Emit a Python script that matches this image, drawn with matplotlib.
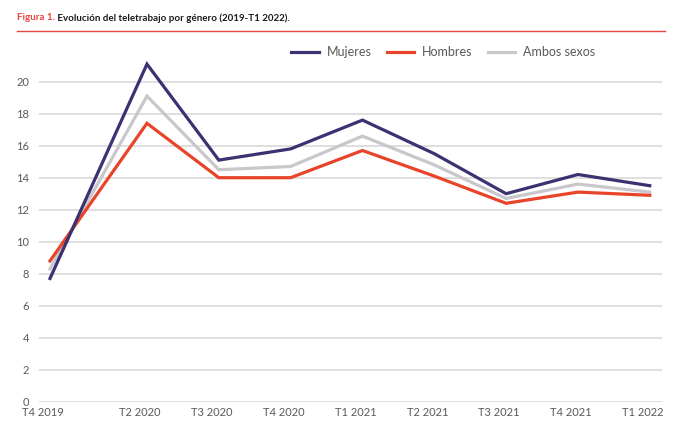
import matplotlib
matplotlib.use("Agg")
import matplotlib.pyplot as plt
import matplotlib.transforms as mtransforms
from matplotlib.lines import Line2D

plt.rcParams['font.family'] = ['Lato', 'DejaVu Sans']

# data
quarters = ["T4 2019", "T2 2020", "T3 2020", "T4 2020", "T1 2021",
            "T2 2021", "T3 2021", "T4 2021", "T1 2022"]
x_pos = [0, 1.35, 2.35, 3.35, 4.35, 5.35, 6.35, 7.35, 8.35]
mujeres = [7.7, 21.1, 15.1, 15.8, 17.6, 15.5, 13.0, 14.2, 13.5]
hombres = [8.8, 17.4, 14.0, 14.0, 15.7, 14.1, 12.4, 13.1, 12.9]
ambos = [8.3, 19.1, 14.5, 14.7, 16.6, 14.8, 12.7, 13.6, 13.1]

c_muj = "#3b3272"
c_hom = "#e8442a"
c_amb = "#c8c8cc"
c_red = "#e8453c"

fig = plt.figure(figsize=(6.78, 4.28), dpi=100)
ax = fig.add_axes([39 / 678, 26.3 / 428, 623 / 678, 360 / 428])

ax.plot(x_pos, ambos, color=c_amb, lw=2.3, solid_joinstyle='miter', zorder=3)
ax.plot(x_pos, hombres, color=c_hom, lw=2.3, solid_joinstyle='miter', zorder=4)
ax.plot(x_pos, mujeres, color=c_muj, lw=2.3, solid_joinstyle='miter', zorder=5)

ax.set_ylim(0, 22.5)
ax.set_xlim(-0.153, 8.52)
ax.set_yticks(range(0, 21, 2))
ax.set_xticks(x_pos)
ax.set_xticklabels(quarters)
ax.grid(axis='y', color="#d9d9d9", lw=1.2)
ax.set_axisbelow(True)
for s in ax.spines.values():
    s.set_visible(False)
ax.tick_params(length=0, labelsize=8, labelcolor="#595959")
ax.tick_params(axis='x', pad=4)
ax.tick_params(axis='y', pad=7)
shift = mtransforms.ScaledTranslation(-7 / 100, 0, fig.dpi_scale_trans)
for lab in ax.get_xticklabels():
    lab.set_transform(lab.get_transform() + shift)

handles = [Line2D([], [], color=c_muj, lw=2.3),
           Line2D([], [], color=c_hom, lw=2.3),
           Line2D([], [], color=c_amb, lw=2.3)]
fig.legend(handles, ["Mujeres", "Hombres", "Ambos sexos"], loc='center',
           bbox_to_anchor=(0.654, 1 - 52 / 428), ncol=3, frameon=False,
           fontsize=9, handlelength=2.2, columnspacing=1.2, handletextpad=0.65,
           labelcolor="#595959")

# title: red figure number, then the caption right after it
t1 = fig.text(17 / 678, 1 - 18 / 428, "Figura 1.", color=c_red, fontsize=7,
              fontweight='bold', va='center', ha='left')
fig.canvas.draw()
bb = t1.get_window_extent()
fig.text(bb.x1 / fig.bbox.width, 1 - 18 / 428,
         " Evolución del teletrabajo por género (2019-T1 2022).",
         color="#1a1a1a", fontsize=7, fontweight='bold', va='center', ha='left')
fig.add_artist(Line2D([17 / 678, 665 / 678], [1 - 31 / 428, 1 - 31 / 428],
                      color=c_red, lw=1, transform=fig.transFigure))

fig.savefig("out.png", dpi=100)
